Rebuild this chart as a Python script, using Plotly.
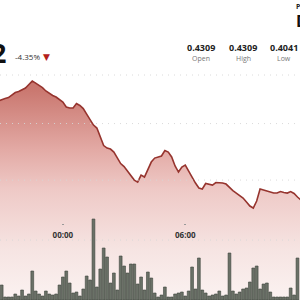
import plotly.graph_objects as go
import pandas as pd

# ---------------- data ----------------
price_times = pd.date_range("2024-01-01 20:50", periods=90, freq="10min")
prices = [
    0.42764,
    0.42777, 0.42786, 0.42795, 0.42818, 0.42841, 0.42850, 0.42864, 0.42882, 0.42914, 0.42945,
    0.42927, 0.42909, 0.42886, 0.42855, 0.42832, 0.42814, 0.42800, 0.42777, 0.42755, 0.42709,
    0.42700, 0.42700, 0.42741, 0.42723, 0.42695, 0.42645, 0.42591, 0.42545, 0.42518, 0.42436,
    0.42359, 0.42336, 0.42327, 0.42300, 0.42245, 0.42195, 0.42168, 0.42127, 0.42082, 0.42045,
    0.42027, 0.42091, 0.42073, 0.42136, 0.42209, 0.42245, 0.42255, 0.42264, 0.42314, 0.42300,
    0.42255, 0.42173, 0.42118, 0.42164, 0.42182, 0.42127, 0.42064, 0.42018, 0.41973, 0.41964,
    0.42014, 0.42009, 0.42000, 0.42023, 0.42023, 0.42018, 0.42009, 0.41977, 0.41950, 0.41927,
    0.41900, 0.41882, 0.41845, 0.41809, 0.41791, 0.41855, 0.41964, 0.41955, 0.41945, 0.41936,
    0.41927, 0.41927, 0.41941, 0.41932, 0.41927, 0.41941, 0.41923, 0.41891, 0.41864,
]

volume_times = pd.date_range("2024-01-01 21:00", periods=88, freq="10min")
volumes = [
    15, 3, 3, 3, 6, 4, 10, 4, 6, 29,
    9, 6, 4, 9, 6, 5, 6, 15, 23, 29,
    17, 7, 8, 4, 11, 24, 20, 81, 13, 31,
    52, 43, 17, 27, 10, 44, 34, 27, 36, 36,
    16, 23, 10, 28, 22, 7, 3, 5, 13, 3,
    3, 6, 7, 8, 4, 9, 33, 11, 42, 10,
    7, 4, 5, 6, 9, 4, 5, 47, 9, 6,
    8, 11, 12, 18, 32, 34, 11, 16, 17, 8,
    3, 3, 3, 3, 3, 12, 5, 42,
]

x_tick_vals = [pd.Timestamp("2024-01-02 00:00"), pd.Timestamp("2024-01-02 06:00")]
grid_levels = [0.43000, 0.42559, 0.42045, 0.41500]

price_digit = "2"
change_text = "-4.35%"
stat_values = ["0.4309", "0.4309", "0.4041"]
stat_labels = ["Open", "High", "Low"]

# ---------------- figure ----------------
W, H = 300, 300
FONT = "Open Sans"

def px(x):
    return x / W

def py(y):
    return 1 - y / H

fig = go.Figure()

fig.add_trace(go.Scatter(
    x=price_times, y=prices, mode="lines",
    line=dict(color="rgb(150,52,46)", width=1.6),
    fill="tozeroy",
    fillgradient=dict(
        type="vertical",
        start=0.40955, stop=0.43682,
        colorscale=[
            [0.0, "rgb(251,242,241)"],
            [0.17, "rgb(246,228,226)"],
            [0.37, "rgb(238,201,198)"],
            [0.5, "rgb(227,170,165)"],
            [0.7, "rgb(202,120,112)"],
            [1.0, "rgb(186,92,84)"],
        ],
    ),
    hoverinfo="skip",
))

fig.add_trace(go.Bar(
    x=volume_times, y=volumes, yaxis="y2",
    marker=dict(color="rgb(106,113,103)", line=dict(color="rgb(62,68,60)", width=0.6)),
    hoverinfo="skip",
))

for lvl in grid_levels:
    fig.add_hline(y=lvl, line=dict(color="rgba(215,215,215,0.9)", width=1, dash="1px,5px"), layer="above")

annotations = []
annotations.append(dict(x=px(8), y=py(52.5), xref="paper", yref="paper", text=f"<b>{price_digit}</b>",
                        showarrow=False, xanchor="right", yanchor="middle",
                        font=dict(family=FONT, size=27, color="#111")))
annotations.append(dict(x=px(27), y=py(57), xref="paper", yref="paper", text=change_text,
                        showarrow=False, xanchor="center", yanchor="middle",
                        font=dict(family=FONT, size=8, color="#333")))
annotations.append(dict(x=px(46), y=py(57.5), xref="paper", yref="paper", text="▼",
                        showarrow=False, xanchor="center", yanchor="middle",
                        font=dict(family="DejaVu Sans", size=9, color="#b3211b")))
stat_x = [201, 243, 284]
for sx, v, lab in zip(stat_x, stat_values, stat_labels):
    annotations.append(dict(x=px(sx), y=py(47), xref="paper", yref="paper", text=f"<b>{v}</b>",
                            showarrow=False, xanchor="center", yanchor="middle",
                            font=dict(family=FONT, size=9, color="#222")))
    annotations.append(dict(x=px(sx), y=py(58), xref="paper", yref="paper", text=lab,
                            showarrow=False, xanchor="center", yanchor="middle",
                            font=dict(family=FONT, size=7, color="#777")))
annotations.append(dict(x=px(294), y=py(6), xref="paper", yref="paper", text="<b>P</b>",
                        showarrow=False, xanchor="left", yanchor="middle",
                        font=dict(family=FONT, size=7, color="#222")))
annotations.append(dict(x=px(294), y=py(21), xref="paper", yref="paper", text="<b>D</b>",
                        showarrow=False, xanchor="left", yanchor="middle",
                        font=dict(family=FONT, size=16, color="#111")))

fig.update_layout(
    width=W, height=H,
    margin=dict(l=0, r=0, t=0, b=0),
    paper_bgcolor="white", plot_bgcolor="white",
    showlegend=False, bargap=0.18,
    annotations=annotations,
    xaxis=dict(
        range=[pd.Timestamp("2024-01-01 20:55:05"), pd.Timestamp("2024-01-02 11:37:26")],
        tickvals=x_tick_vals, tickformat="%H:%M",
        showgrid=False, zeroline=False, showline=False,
        ticks="outside", ticklen=1, tickwidth=1.5, tickcolor="#999",
        anchor="free", position=1 - 223 / H, ticklabelstandoff=3,
        tickfont=dict(family=FONT, size=8, color="#333", weight="bold"),
        fixedrange=True,
    ),
    yaxis=dict(range=[0.40955, 0.43682], showgrid=False, showticklabels=False,
               zeroline=False, showline=False, fixedrange=True),
    yaxis2=dict(range=[0, 300], overlaying="y", visible=False, fixedrange=True),
)

fig.write_html("out.html")
